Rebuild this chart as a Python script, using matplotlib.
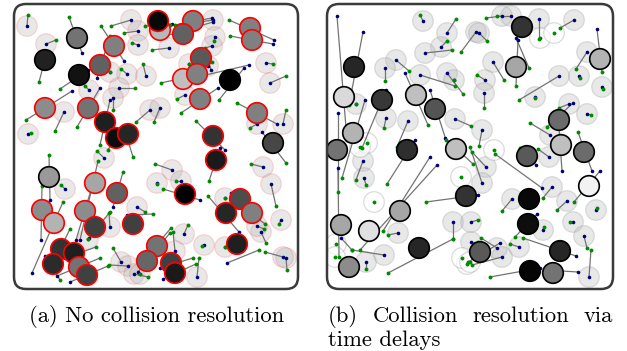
import matplotlib
matplotlib.use('Agg')
import matplotlib.pyplot as plt
from matplotlib.patches import Circle, FancyBboxPatch

# agents still moving: (x, y, fill gray, collided, start x, start y, goal x, goal y)
a_active = [
    (77, 38, 0.45, 0, 69, 17, 82, 53),
    (45, 60, 0.13, 0, 39, 82, 47, 52),
    (79, 75, 0.07, 0, 60, 89, 88, 70),
    (114, 46, 0.50, 1, 101, 26, 124, 61),
    (100, 65, 0.38, 1, 110, 36, 97, 78),
    (45, 108, 0.55, 1, 26, 120, 72, 91),
    (88, 108, 0.45, 1, 77, 127, 100, 88),
    (105, 122, 0.12, 1, 100, 145, 110, 100),
    (116, 138, 0.05, 1, 108, 150, 120, 128),
    (128, 134, 0.15, 1, 133, 157, 124, 128),
    (160, 30, 0.72, 1, 145, 26, 172, 24),
    (158, 21, 0.03, 1, 170, 25, 150, 18),
    (193, 21, 0.50, 1, 175, 25, 212, 18),
    (183, 34, 0.38, 1, 162, 37, 213, 22),
    (250, 28, 0.50, 1, 229, 20, 274, 40),
    (252, 40, 0.50, 1, 230, 36, 273, 44),
    (201, 58, 0.35, 1, 205, 49, 211, 70),
    (183, 79, 0.75, 1, 161, 83, 196, 75),
    (197, 74, 0.50, 1, 184, 80, 249, 65),
    (230, 80, 0.00, 0, 219, 100, 244, 68),
    (200, 99, 0.50, 1, 181, 113, 218, 88),
    (257, 113, 0.50, 1, 237, 103, 277, 124),
    (213, 136, 0.20, 1, 196, 121, 225, 150),
    (273, 143, 0.28, 0, 286, 163, 262, 132),
    (49, 177, 0.60, 0, 49, 155, 50, 200),
    (95, 183, 0.65, 1, 98, 161, 80, 240),
    (117, 193, 0.38, 1, 123, 172, 113, 207),
    (42, 210, 0.55, 1, 42, 186, 41, 240),
    (54, 223, 0.70, 1, 63, 202, 32, 273),
    (85, 211, 0.55, 1, 91, 190, 76, 240),
    (95, 227, 0.25, 1, 110, 212, 89, 238),
    (133, 224, 0.25, 1, 153, 214, 127, 215),
    (61, 249, 0.20, 1, 70, 229, 55, 260),
    (74, 253, 0.12, 1, 96, 247, 65, 258),
    (53, 264, 0.17, 1, 60, 280, 45, 256),
    (79, 267, 0.45, 1, 100, 258, 57, 276),
    (87, 275, 0.25, 1, 108, 266, 70, 282),
    (157, 246, 0.45, 1, 171, 228, 148, 255),
    (147, 261, 0.40, 1, 170, 233, 138, 272),
    (216, 160, 0.10, 1, 209, 181, 220, 148),
    (185, 194, 0.00, 1, 163, 189, 200, 200),
    (240, 199, 0.30, 1, 250, 219, 231, 193),
    (226, 213, 0.15, 1, 208, 196, 239, 232),
    (252, 213, 0.50, 1, 265, 224, 241, 205),
    (237, 244, 0.12, 1, 259, 250, 227, 263),
    (171, 263, 0.25, 1, 193, 258, 160, 268),
    (175, 273, 0.10, 1, 196, 264, 163, 279),
]

# agents that reached their goal: (goal x, goal y, start x, start y)
a_done = [
    (27, 26, 28, 15), (46, 44, 56, 40), (131, 20, 111, 26), (138, 31, 124, 33),
    (138, 45, 132, 43), (127, 74, 121, 69), (146, 76, 143, 64), (110, 72, 110, 72),
    (119, 88, 135, 88), (113, 98, 113, 110), (89, 90, 85, 86), (64, 112, 55, 131),
    (28, 134, 31, 133), (150, 110, 136, 122), (213, 20, 180, 25), (215, 37, 214, 41),
    (212, 46, 205, 48), (169, 48, 152, 50), (189, 64, 189, 64), (208, 66, 212, 62),
    (266, 63, 273, 64), (270, 83, 286, 76), (185, 95, 177, 99), (160, 108, 154, 122),
    (257, 124, 250, 128), (283, 124, 286, 110), (172, 170, 155, 164), (157, 183, 157, 184),
    (181, 181, 176, 181), (263, 167, 251, 164), (271, 184, 276, 206), (225, 198, 225, 198),
    (281, 220, 279, 224), (261, 232, 266, 243), (257, 226, 264, 229), (184, 234, 188, 225),
    (204, 245, 202, 246), (175, 251, 173, 232), (225, 247, 225, 247), (197, 277, 199, 258),
    (286, 258, 287, 270), (283, 257, 265, 252), (104, 158, 97, 151), (65, 189, 61, 185),
    (137, 207, 145, 212), (110, 227, 109, 213), (88, 239, 88, 239), (121, 262, 113, 248),
    (128, 266, 109, 265), (134, 274, 148, 277), (140, 274, 140, 274),
]

b_active = [
    (354, 67, 0.15, 0, 349, 105, 363, 32),
    (344, 97, 0.85, 0, 347, 140, 337, 16),
    (382, 100, 0.22, 0, 362, 148, 386, 90),
    (416, 95, 0.75, 0, 428, 125, 405, 73),
    (435, 109, 0.33, 0, 446, 140, 430, 90),
    (353, 133, 0.70, 0, 342, 178, 365, 100),
    (337, 150, 0.45, 0, 338, 192, 338, 113),
    (407, 150, 0.18, 0, 387, 184, 415, 140),
    (456, 149, 0.75, 0, 473, 164, 445, 138),
    (466, 196, 0.20, 0, 426, 202, 478, 195),
    (400, 211, 0.65, 0, 383, 231, 430, 157),
    (369, 231, 0.88, 0, 360, 250, 437, 165),
    (341, 225, 0.65, 0, 339, 257, 338, 168),
    (419, 248, 0.15, 0, 388, 273, 453, 239),
    (349, 267, 0.55, 0, 352, 250, 341, 238),
    (480, 252, 0.35, 0, 468, 262, 500, 243),
    (522, 27, 0.20, 0, 529, 68, 516, 38),
    (516, 67, 0.65, 0, 516, 86, 518, 40),
    (600, 59, 0.70, 0, 602, 72, 597, 29),
    (559, 120, 0.42, 0, 547, 127, 573, 103),
    (561, 145, 0.75, 0, 559, 128, 562, 171),
    (584, 152, 0.42, 0, 578, 132, 592, 171),
    (527, 156, 0.35, 0, 520, 148, 536, 165),
    (589, 186, 0.95, 0, 574, 202, 600, 171),
    (529, 199, 0.03, 0, 495, 154, 542, 188),
    (528, 224, 0.05, 0, 515, 237, 537, 214),
    (560, 251, 0.15, 0, 523, 238, 576, 256),
    (530, 271, 0.02, 0, 490, 277, 540, 268),
    (553, 273, 0.45, 0, 545, 270, 578, 272),
]

b_done = [
    (423, 21, 420, 15), (447, 33, 456, 19), (441, 47, 447, 41), (425, 53, 452, 50),
    (396, 60, 409, 71), (385, 68, 385, 81), (420, 75, 455, 86), (447, 73, 463, 94),
    (454, 80, 454, 80), (476, 32, 461, 52), (356, 104, 356, 104), (386, 118, 384, 128),
    (408, 121, 397, 147), (455, 119, 471, 126), (502, 16, 486, 18), (511, 16, 497, 16),
    (479, 33, 487, 41), (539, 19, 539, 39), (574, 20, 560, 28), (587, 52, 576, 69),
    (493, 62, 504, 80), (485, 80, 477, 75), (484, 93, 484, 108), (559, 76, 519, 100),
    (535, 97, 535, 98), (579, 76, 580, 78), (602, 87, 603, 89), (569, 104, 559, 108),
    (587, 114, 591, 115), (482, 130, 479, 146), (550, 135, 530, 123), (486, 167, 472, 152),
    (482, 183, 470, 147), (549, 157, 538, 149), (512, 199, 502, 211), (552, 187, 543, 198),
    (567, 201, 557, 210), (596, 210, 597, 208), (573, 222, 570, 222), (584, 236, 587, 248),
    (543, 230, 544, 227), (471, 242, 478, 242), (497, 248, 481, 238), (519, 247, 510, 244),
    (502, 257, 472, 265), (589, 277, 591, 250), (363, 161, 356, 180), (364, 178, 366, 185),
    (398, 233, 388, 235), (384, 255, 352, 250), (366, 262, 366, 269), (453, 222, 453, 239),
    (471, 222, 478, 220),
]

# agents held back at their start (time delay)
b_wait_x = [540, 554, 494, 374, 461, 467, 462, 470, 336, 367, 360, 335]
b_wait_y = [38, 33, 150, 202, 177, 264, 258, 262, 244, 143, 147, 257]

captions = ["(a) No collision resolution", "(b) Collision resolution via time delays"]

R = 10.3
GREEN = '#008a00'
BLUE = '#00007a'
W, H = 627, 351


def draw_panel(ax, active, done, xlim, ylim, idle_edge, wait_x=(), wait_y=()):
    ax.set_xlim(*xlim)
    ax.set_ylim(*ylim)
    ax.axis('off')

    for gx, gy, sx, sy in done:
        ax.add_patch(Circle((gx, gy), R, facecolor=(0.72, 0.72, 0.72, 0.32),
                            edgecolor=idle_edge, lw=0.9, zorder=1))
    for x, y in zip(wait_x, wait_y):
        ax.add_patch(Circle((x, y), R, facecolor=(1, 1, 1, 0.6),
                            edgecolor=(0.6, 0.6, 0.6, 0.35), lw=0.9, zorder=1))

    for gx, gy, sx, sy in done:
        ax.plot([sx, gx], [sy, gy], color='0.45', lw=0.9, zorder=2)
    for a in active:
        ax.plot([a[4], a[6]], [a[5], a[7]], color='0.45', lw=0.9, zorder=2)

    sxs = [d[2] for d in done] + [a[4] for a in active] + list(wait_x)
    sys_ = [d[3] for d in done] + [a[5] for a in active] + list(wait_y)
    gxs = [d[0] for d in done] + [a[6] for a in active]
    gys = [d[1] for d in done] + [a[7] for a in active]
    ax.plot(gxs, gys, 'o', color=BLUE, ms=2.6, mew=0, zorder=3)
    ax.plot(sxs, sys_, 'o', color=GREEN, ms=2.8, mew=0, zorder=3)

    for i, a in enumerate(active):
        edge = 'red' if a[3] else 'black'
        ax.add_patch(Circle((a[0], a[1]), R, facecolor=str(a[2]), edgecolor=edge,
                            lw=1.2, zorder=4 + i * 0.001))

    w = xlim[1] - xlim[0]
    h = ylim[0] - ylim[1]
    ax.add_patch(FancyBboxPatch((xlim[0], ylim[1]), w, h,
                                boxstyle="round,pad=0,rounding_size=12",
                                facecolor='none', edgecolor='#3a3a3a', lw=1.8,
                                clip_on=False, zorder=10))


fig = plt.figure(figsize=(6.27, 3.51), dpi=100)
ax1 = fig.add_axes([14 / W, 1 - 289 / H, 284 / W, 285 / H])
ax2 = fig.add_axes([327 / W, 1 - 289 / H, 286 / W, 285 / H])

draw_panel(ax1, a_active, a_done, (14, 298), (289, 4), (1, 0, 0, 0.14))
draw_panel(ax2, b_active, b_done, (327, 613), (289, 4), (0.6, 0.6, 0.6, 0.3),
           b_wait_x, b_wait_y)

fs = 16.3
font = dict(fontsize=fs, family='cmr10', va='baseline')
fig.text(157 / W, 1 - 322 / H, captions[0], ha='center', **font)

# caption (b): first line justified between 328 and 613 px, then the rest
words = captions[1].split()
line1 = words[:4]
renderer = fig.canvas.get_renderer()
texts = [fig.text(0, 1 - 322 / H, wd, ha='left', **font) for wd in line1]
widths = [t.get_window_extent(renderer).width for t in texts]
gap = (613 - 328 - sum(widths)) / (len(line1) - 1)
x = 328
for t, wd in zip(texts, widths):
    t.set_x(x / W)
    x += wd + gap
fig.text(328 / W, 1 - 346 / H, " ".join(words[4:]), ha='left', **font)

fig.savefig('out.png', dpi=100)
